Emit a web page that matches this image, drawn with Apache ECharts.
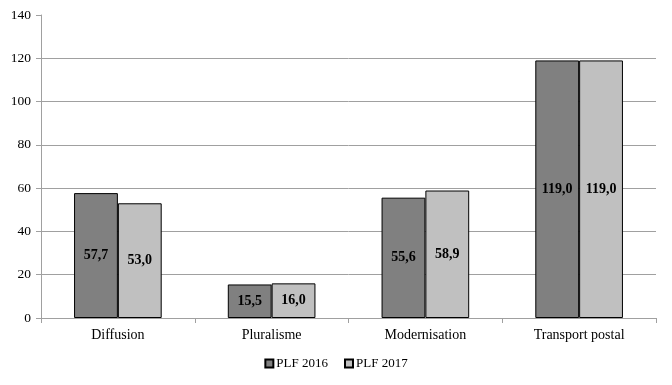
<!DOCTYPE html>
<html><head><meta charset="utf-8">
<script src="https://cdn.jsdelivr.net/npm/echarts@6/dist/echarts.min.js"></script>
<style>html,body{margin:0;padding:0;background:#fff}#c{width:672px;height:385px}</style>
</head><body><div id="c"></div>
<script>
const categories = ['Diffusion', 'Pluralisme', 'Modernisation', 'Transport postal'];
const plf2016 = [57.7, 15.5, 55.6, 119.0];
const plf2017 = [53.0, 16.0, 58.9, 119.0];
const seriesNames = ['PLF 2016', 'PLF 2017'];
const FONT = 'Liberation Serif';
const fmt = p => p.value.toFixed(1).replace('.', ',');
const chart = echarts.init(document.getElementById('c'));
chart.setOption({
  animation: false,
  textStyle: { fontFamily: FONT },
  grid: { left: 41, right: 16, top: 15, bottom: 67 },
  legend: {
    bottom: 10, left: 'center', itemWidth: 8, itemHeight: 8, itemGap: 16,
    textStyle: { fontFamily: FONT, fontSize: 13, color: '#000', padding: [0, 0, 0, -2] },
    data: seriesNames.map(n => ({ name: n, icon: 'rect' }))
  },
  xAxis: {
    type: 'category', data: categories,
    axisLine: { lineStyle: { color: '#a0a0a0' } },
    axisTick: { show: true, alignWithLabel: false, length: 5, lineStyle: { color: '#a0a0a0' } },
    axisLabel: { color: '#000', fontSize: 14, fontFamily: FONT, margin: 10 }
  },
  yAxis: {
    type: 'value', min: 0, max: 140, interval: 20,
    axisLine: { show: true, lineStyle: { color: '#a0a0a0' } },
    axisTick: { show: true, length: 5, lineStyle: { color: '#a0a0a0' } },
    splitLine: { showMaxLine: false, lineStyle: { color: '#a0a0a0' } },
    axisLabel: { color: '#000', fontSize: 13.5, fontFamily: FONT, margin: 10 }
  },
  series: [
    { name: seriesNames[0], type: 'bar', data: plf2016, barGap: '0%', barCategoryGap: '43%',
      itemStyle: { color: '#808080', borderColor: '#000', borderWidth: 1 },
      label: { show: true, position: 'inside', formatter: fmt, color: '#000', fontWeight: 'bold', fontSize: 14, fontFamily: FONT } },
    { name: seriesNames[1], type: 'bar', data: plf2017, barGap: '0%', barCategoryGap: '43%',
      itemStyle: { color: '#c0c0c0', borderColor: '#000', borderWidth: 1 },
      label: { show: true, position: 'inside', formatter: fmt, color: '#000', fontWeight: 'bold', fontSize: 14, fontFamily: FONT } }
  ]
});
</script></body></html>
